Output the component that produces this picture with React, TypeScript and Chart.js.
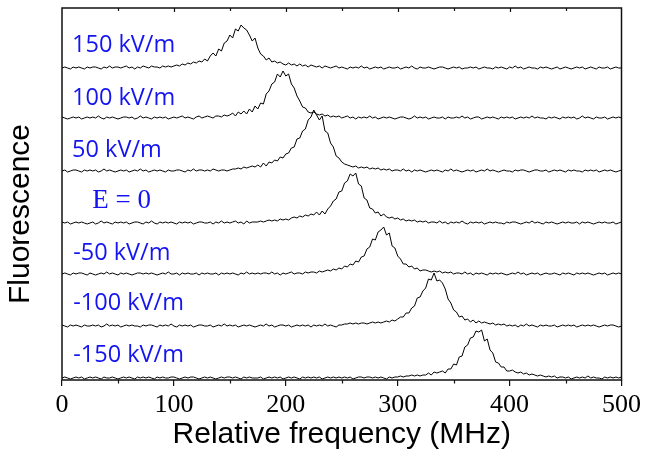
import React, { useEffect, useRef } from "react";
import { Chart, registerables } from "chart.js";

Chart.register(...registerables);

// Frequency grid (MHz): 0 .. 500, 2.5 MHz sampling
const FREQ_STEP = 2.5;
const N_POINTS = 201;
const freqs = Array.from({ length: N_POINTS }, (_, i) => i * FREQ_STEP);

// Series labels (top to bottom)
const seriesLabels = ["150 kV/m", "100 kV/m", "50 kV/m", "E = 0", "-50 kV/m", "-100 kV/m", "-150 kV/m"];

// Vertical offsets of each trace (stacking)
const offsets = [312, 262, 209, 157, 106, 54, 2];

// Label anchor positions (data units)
const labelX = [9, 9, 9, 27, 10, 10, 10];
const labelY = [328, 275, 223, 172, 120, 70, 18];

// Fluorescence traces (relative intensity above baseline)
const t150 = [
  0,1,0,-1,1,0,1,0,-1,1,
  0,1,1,0,-1,1,0,2,0,1,
  1,0,1,2,0,1,-1,1,0,2,
  1,0,2,1,1,0,2,1,2,1,
  2,3,2,4,3,5,4,6,5,7,
  6,9,7,12,15,12,19,17,25,27,
  33,30,39,37,43,40,38,33,27,30,
  20,14,12,8,10,6,7,5,6,4,
  3,5,3,4,2,4,2,3,1,3,
  2,1,2,0,2,1,0,1,2,0,
  1,0,-1,1,0,1,0,2,0,1,
  -1,0,1,0,1,-1,0,1,0,0,
  1,-1,0,1,0,2,0,-1,1,0,
  0,1,0,-1,0,1,1,0,-1,0,
  1,0,1,-1,0,0,1,0,1,-1,
  0,1,0,0,-1,1,0,1,0,-1,
  1,0,2,0,1,-1,0,1,0,0,
  -1,1,0,1,0,-1,0,1,-1,0,
  1,0,-1,0,1,0,1,-1,0,1,
  0,-1,1,0,0,1,-1,0,1,0,
  0,
];

const t100 = [
  1,0,-1,0,1,0,1,-1,0,1,
  0,1,0,2,0,-1,1,0,1,0,
  -1,0,1,1,0,1,-1,0,2,0,
  1,0,-1,1,0,1,0,1,-1,0,
  1,0,1,2,0,1,0,-1,1,2,
  0,1,2,1,0,2,2,1,3,2,
  3,5,2,6,4,7,4,9,6,12,
  9,15,14,24,27,34,36,44,41,47,
  42,44,34,30,22,17,11,10,6,5,
  6,4,3,4,2,3,1,2,1,2,
  0,1,2,0,1,-1,1,0,1,0,
  2,0,1,-1,0,1,0,1,0,-1,
  0,1,1,0,-1,0,2,0,1,0,
  1,-1,0,1,0,0,1,-1,1,0,
  0,1,0,2,0,1,-1,0,1,1,
  -1,0,1,0,1,0,-1,1,0,1,
  0,1,-1,0,1,0,1,0,2,0,
  1,0,0,-1,1,0,1,0,-1,1,
  0,1,0,1,-1,0,2,0,1,0,
  -1,1,0,0,1,-1,0,1,0,1,
  0,
];

const t50 = [
  0,1,-1,0,1,1,0,-1,1,0,
  1,0,1,-1,0,2,0,1,0,-1,
  0,1,0,1,-1,0,1,0,2,0,
  1,-1,0,1,0,1,0,-1,1,0,
  0,1,1,0,-1,1,0,2,0,1,
  1,0,1,0,2,1,0,1,1,0,
  1,2,2,3,2,4,3,4,5,4,
  6,4,8,5,9,8,11,10,14,13,
  17,18,23,24,32,33,40,42,51,54,
  61,56,51,55,40,38,28,24,15,13,
  9,7,6,5,4,5,3,4,3,4,
  2,3,2,3,1,2,1,2,0,1,
  1,0,2,0,1,-1,1,0,1,0,
  -1,0,1,0,1,0,-1,1,0,2,
  0,1,0,-1,0,1,0,1,-1,0,
  1,0,2,0,1,0,-1,0,1,0,
  0,-1,1,0,1,1,0,-1,0,1,
  1,0,0,1,-1,0,1,0,1,0,
  -1,1,0,1,0,0,-1,1,0,1,
  0,1,-1,0,1,0,1,0,-1,0,
  1,
];

const t0 = [
  1,0,1,-1,0,1,0,1,0,-1,
  0,1,-1,0,2,0,1,0,-1,1,
  0,1,0,1,-1,0,1,1,0,-1,
  1,0,2,0,-1,1,0,1,0,1,
  0,-1,1,0,1,0,1,-1,0,1,
  1,0,0,1,-1,1,0,2,0,1,
  0,1,2,0,1,-1,2,0,1,1,
  1,2,1,2,3,2,3,2,4,3,
  4,3,5,6,5,7,6,8,7,9,
  8,11,8,12,9,14,17,22,24,31,
  32,40,42,49,47,50,39,37,25,23,
  15,14,10,11,7,9,6,5,6,4,
  5,3,4,2,3,2,3,1,2,1,
  2,0,1,1,0,2,0,1,-1,1,
  0,1,0,2,0,-1,1,0,1,0,
  1,-1,0,1,0,1,0,0,-1,1,
  0,1,1,0,-1,0,1,0,2,0,
  1,0,-1,1,0,1,0,-1,0,1,
  0,1,0,0,1,-1,1,0,1,0,
  -1,0,1,0,1,0,0,1,-1,0,
  1,
];

const tm50 = [
  0,1,0,-1,1,0,1,1,0,-1,
  1,0,-1,0,1,0,2,0,1,0,
  -1,1,0,1,0,-1,0,1,1,0,
  1,0,1,0,-1,0,1,0,2,0,
  0,1,-1,1,0,1,0,0,1,-1,
  1,0,1,0,0,1,-1,1,0,1,
  0,1,0,-1,1,0,2,0,1,0,
  1,0,1,1,0,2,0,1,-1,1,
  0,1,2,0,1,1,0,2,1,2,
  2,1,3,2,3,4,3,5,4,6,
  5,8,7,10,9,13,12,17,18,25,
  27,35,34,42,44,47,39,41,28,26,
  18,15,10,10,7,8,5,6,3,4,
  4,3,2,3,2,3,1,2,1,2,
  0,1,1,0,2,0,1,-1,1,0,
  1,0,-1,1,0,1,0,1,0,-1,
  0,1,0,2,0,1,-1,0,1,0,
  1,-1,0,1,0,0,1,0,-1,1,
  0,1,0,-1,1,0,1,0,1,0,
  -1,0,1,0,1,-1,0,1,0,1,
  0,
];

const tm100 = [
  1,0,-1,1,0,1,0,-1,1,0,
  0,1,0,1,-1,0,2,0,1,0,
  1,-1,0,1,0,1,0,0,-1,1,
  0,1,1,0,-1,1,0,1,0,2,
  0,-1,1,0,1,0,1,-1,0,1,
  1,0,0,1,-1,0,1,0,2,0,
  1,0,1,-1,0,1,0,1,0,-1,
  0,1,0,2,0,1,-1,0,1,1,
  0,1,-1,0,1,0,1,0,1,-1,
  1,0,1,0,2,0,1,0,-1,1,
  1,2,2,3,2,3,2,3,3,2,
  3,4,3,4,3,4,5,4,6,5,
  7,9,9,13,13,18,20,28,29,35,
  38,47,46,53,45,46,43,37,27,23,
  16,14,9,10,6,7,4,6,3,5,
  3,4,3,2,3,1,2,1,2,0,
  1,0,1,-1,1,0,2,0,1,0,
  -1,1,0,1,0,0,1,-1,0,1,
  0,1,0,1,-1,0,1,0,1,0,
  1,0,-1,0,1,0,1,1,0,-1,
  0,
];

const tm150 = [
  0,1,0,-1,0,1,0,1,-1,0,
  1,0,1,0,-1,1,0,0,1,0,
  -1,0,1,0,1,0,-1,1,0,1,
  0,1,0,-1,1,0,1,0,0,1,
  1,0,-1,0,1,0,1,1,0,-1,
  0,1,0,1,0,-1,0,1,0,1,
  1,0,1,0,-1,1,0,1,0,0,
  0,1,-1,0,1,0,1,0,1,-1,
  0,1,0,1,0,-1,1,0,1,0,
  1,0,1,-1,0,1,0,1,0,1,
  0,1,0,1,-1,0,1,1,0,1,
  1,0,1,0,1,0,-1,1,0,1,
  1,2,1,2,2,3,2,3,2,3,
  3,5,3,6,5,6,7,5,9,9,
  14,13,21,22,31,33,40,41,47,46,
  48,37,39,28,25,16,15,11,11,7,
  7,8,6,5,6,4,5,3,4,3,
  2,3,2,1,2,1,2,0,1,1,
  0,1,-1,0,1,0,1,0,2,0,
  1,0,0,-1,1,0,1,0,1,0,
  1,
];

const traces = [t150, t100, t50, t0, tm50, tm100, tm150];

// Axis tick settings
const X_MIN = 0;
const X_MAX = 500;
const X_MAJOR = 100;
const X_MINOR = 50;

const LABEL_COLOR = "#1414f0";

const overlayPlugin = {
  id: "overlay",
  afterDraw(chart: any) {
    const { ctx, chartArea } = chart;
    const xs = chart.scales.x;
    const ys = chart.scales.y;
    ctx.save();
    // frame
    ctx.strokeStyle = "#111";
    ctx.lineWidth = 1.5;
    ctx.strokeRect(chartArea.left, chartArea.top, chartArea.right - chartArea.left, chartArea.bottom - chartArea.top);
    // minor ticks bottom (outward) and top ticks (inward)
    ctx.lineWidth = 1.2;
    for (let v = X_MIN; v <= X_MAX; v += X_MINOR) {
      const px = Math.round(xs.getPixelForValue(v)) + 0.5;
      const major = v % X_MAJOR === 0;
      if (!major) {
        ctx.beginPath();
        ctx.moveTo(px, chartArea.bottom);
        ctx.lineTo(px, chartArea.bottom + 3.5);
        ctx.stroke();
      }
      if (v !== X_MIN && v !== X_MAX) {
        ctx.beginPath();
        ctx.moveTo(px, chartArea.top);
        ctx.lineTo(px, chartArea.top + (major ? 4 : 3));
        ctx.stroke();
      }
    }
    // series labels
    ctx.fillStyle = LABEL_COLOR;
    ctx.textBaseline = "alphabetic";
    ctx.textAlign = "left";
    seriesLabels.forEach((lab, i) => {
      ctx.font = lab.startsWith("E") ? '27px "Liberation Serif"' : '23.5px "Open Sans"';
      ctx.fillText(lab, xs.getPixelForValue(labelX[i]), ys.getPixelForValue(labelY[i]));
    });
    // y title
    ctx.fillStyle = "#000";
    ctx.font = '30px "Liberation Sans"';
    ctx.textAlign = "center";
    ctx.textBaseline = "middle";
    ctx.translate(chartArea.left - 41, chartArea.top + 206);
    ctx.rotate(-Math.PI / 2);
    ctx.fillText("Fluorescence", 0, 0);
    ctx.restore();
  },
};

export default function App() {
  const ref = useRef<HTMLCanvasElement | null>(null);
  useEffect(() => {
    document.body.style.margin = "0";
    const canvas = ref.current!;
    const datasets = traces.map((tr, k) => ({
      label: seriesLabels[k],
      data: tr.map((v, i) => ({ x: freqs[i], y: offsets[k] + v })),
      borderColor: "#000",
      borderWidth: 1,
      pointRadius: 0,
      fill: false,
      tension: 0,
    }));
    const chart = new Chart(canvas, {
      type: "line",
      data: { datasets },
      plugins: [overlayPlugin],
      options: {
        animation: false,
        responsive: false,
        maintainAspectRatio: false,
        layout: { padding: { top: 8, right: 23, left: 0, bottom: 0 } },
        plugins: { legend: { display: false }, tooltip: { enabled: false } },
        scales: {
          x: {
            type: "linear",
            min: X_MIN,
            max: X_MAX,
            afterFit: (s: any) => { s.height = 74; },
            ticks: {
              stepSize: X_MAJOR,
              color: "#000",
              padding: 4,
              maxRotation: 0,
              font: { family: "Liberation Serif", size: 26 },
            },
            grid: {
              display: true,
              drawOnChartArea: false,
              drawTicks: true,
              tickLength: 6,
              color: "#111",
              lineWidth: 1.2,
            },
            border: { display: false },
            title: {
              display: true,
              text: "Relative frequency (MHz)",
              color: "#000",
              font: { family: "Liberation Sans", size: 30 },
              padding: { top: 0, bottom: 1 },
            },
          },
          y: {
            type: "linear",
            min: 0,
            max: 372,
            afterFit: (s: any) => { s.width = 62; },
            ticks: { display: false },
            grid: { display: false },
            border: { display: false },
          },
        },
      },
    });
    return () => chart.destroy();
  }, []);
  return (
    <div style={{ width: 645, height: 454 }}>
      <canvas ref={ref} width={645} height={454} />
    </div>
  );
}
